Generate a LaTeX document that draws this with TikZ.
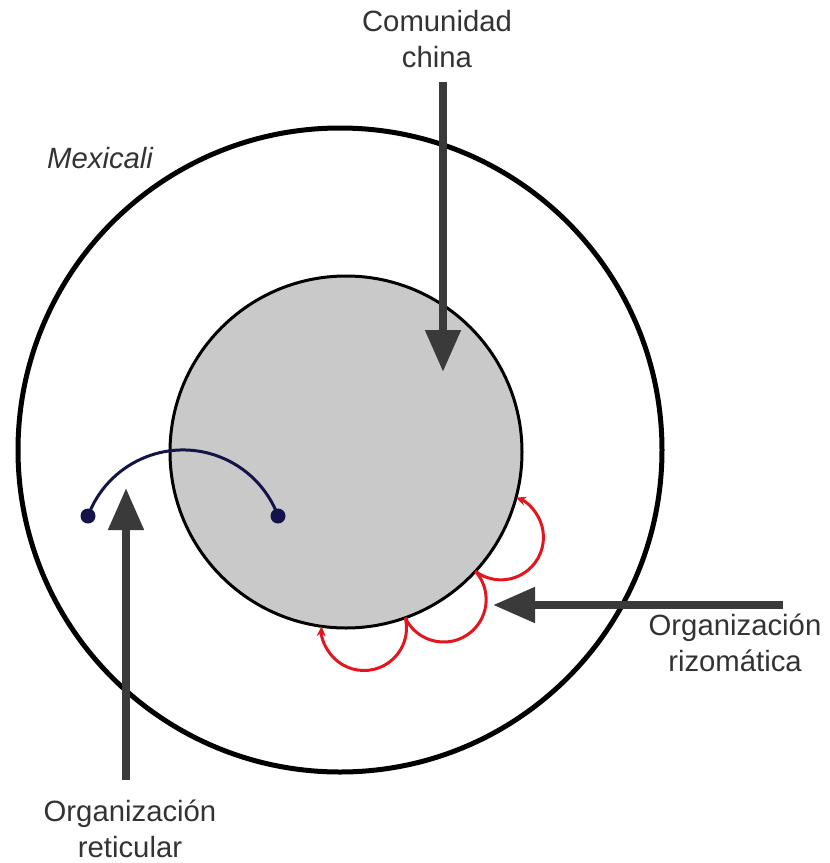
\documentclass[tikz,border=0pt]{standalone}
\usepackage{fontspec}
\setmainfont{Liberation Sans}
\usetikzlibrary{arrows.meta,calc}
\definecolor{txtgray}{HTML}{333333}
\definecolor{arrgray}{HTML}{3A3A3A}
\definecolor{circgray}{HTML}{C9C9C9}
\definecolor{navyblue}{HTML}{14144A}
\definecolor{loopred}{HTML}{E3161E}
\begin{document}
\begin{tikzpicture}[x=1pt,y=-1pt,
  lbl/.style={font=\fontsize{29.3}{36}\selectfont, text=txtgray, inner sep=0pt, align=center},
  bigarrow/.style={draw=arrgray, line width=8pt, -{Triangle[length=42pt,width=34pt]}},
  loopline/.style={draw=loopred, line width=3pt},
  looptip/.style={-{Stealth[length=10pt,width=9pt]}},
  dotnode/.style={circle, fill=navyblue, inner sep=0pt, minimum size=15pt},
  ring/.style={circle, draw=black, inner sep=0pt, outer sep=0pt}]
\useasboundingbox (0,0) rectangle (830,863);
\fill[white] (0,0) rectangle (830,863);
% circles
\node[ring, line width=5pt, minimum size=644pt] (outer) at (340,450) {};
\node[ring, line width=3pt, fill=circgray, minimum size=352pt] (inner) at (346,452) {};
\coordinate (C) at (346,452);
% reticular arc
\node[dotnode] (dotL) at (88,516) {};
\node[dotnode] (dotR) at (278,516) {};
\draw[navyblue, line width=3pt] (dotL.center) arc[start angle=200.4, end angle=339.6, radius=101.4];
% rhizome loops
\draw[loopline, looptip] ($(C)+(42.67:176)$) arc[start angle=126.99, end angle=-69.33, radius=42.5];
\draw[loopline] ($(C)+(42.67:176)$) arc[start angle=-41.66, end angle=154.66, radius=42.5];
\draw[loopline, looptip] ($(C)+(70.33:176)$) arc[start angle=-13.99, end angle=182.33, radius=42.5];
% labels
\node[lbl] (comunidad) at (437,39) {Comunidad\\china};
\node[lbl, anchor=base west, font=\fontsize{29.3}{36}\selectfont\itshape] (mexicali) at (47,168) {Mexicali};
\node[lbl] (reticular) at (130,829) {Organización\\reticular};
\node[lbl] (rizomatica) at (735,643) {Organización\\rizomática};
% arrows
\coordinate (comStart) at (443,82);
\coordinate (comTip) at (443,372);
\coordinate (retStart) at (126,780);
\coordinate (retTip) at (126,488);
\coordinate (rizStart) at (783,605);
\coordinate (rizTip) at (493,605);
\draw[bigarrow] (comStart) -- (comTip);
\draw[bigarrow] (retStart) -- (retTip);
\draw[bigarrow] (rizStart) -- (rizTip);
\end{tikzpicture}
\end{document}
